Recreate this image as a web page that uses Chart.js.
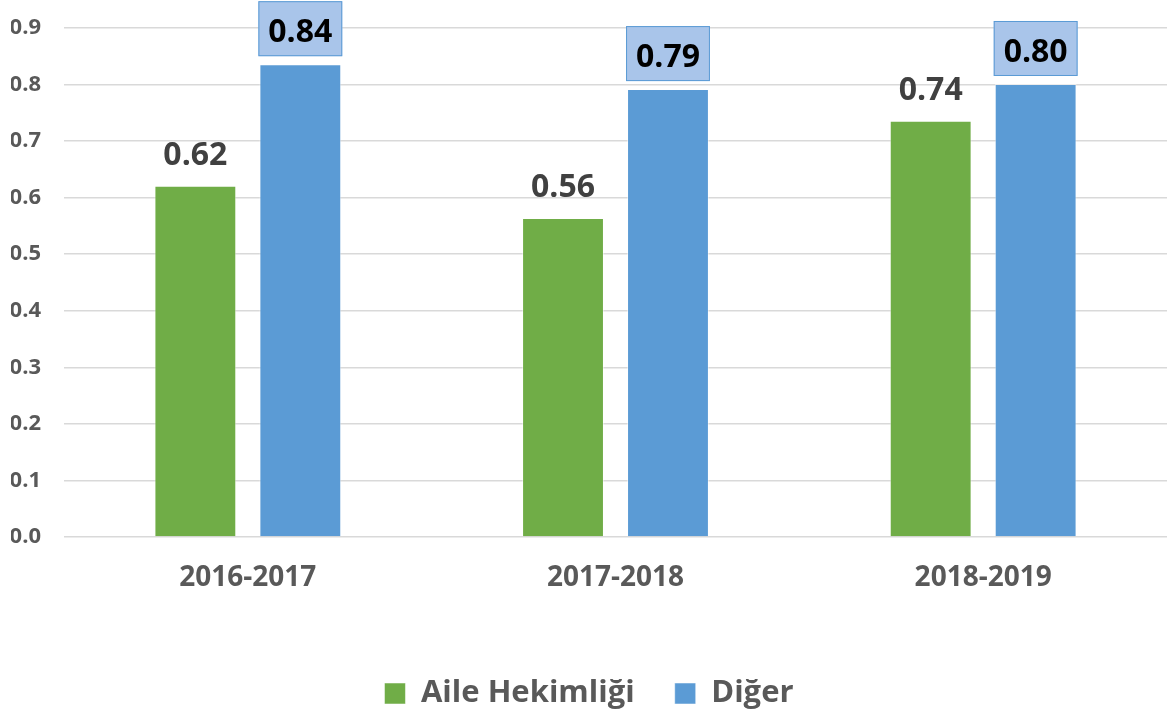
<!DOCTYPE html>
<html>
<head>
<meta charset="utf-8">
<script src="https://cdn.jsdelivr.net/npm/chart.js@4"></script>
<style>
html,body{margin:0;padding:0;background:#fff;}
#wrap{width:1167px;height:719px;}
</style>
</head>
<body>
<div id="wrap"><canvas id="c" width="1167" height="719"></canvas></div>
<script>
const categories = ["2016-2017", "2017-2018", "2018-2019"];
const aileHekimligi = [0.621, 0.564, 0.736];
const diger = [0.836, 0.792, 0.801];
const seriesNames = ["Aile Hekimliği", "Diğer"];
const yTicks = [0, 0.1, 0.2, 0.3, 0.4, 0.5, 0.6, 0.7, 0.8, 0.9];

const FONT = "'Open Sans', 'Noto Sans', sans-serif";

const labelPlugin = {
  id: 'valueLabels',
  afterDatasetsDraw(chart) {
    const ctx = chart.ctx;
    chart.data.datasets.forEach((ds, di) => {
      const meta = chart.getDatasetMeta(di);
      meta.data.forEach((bar, i) => {
        const v = ds.data[i];
        const txt = (Math.round(v * 100) / 100).toFixed(2);
        ctx.save();
        ctx.font = "bold 32px " + FONT;
        ctx.textAlign = 'center';
        ctx.textBaseline = 'alphabetic';
        if (di === 1) {
          const w = bar.width + 2;
          const left = bar.x - w / 2;
          const top = bar.y - 63;
          const h = 55;
          ctx.fillStyle = '#a9c5ea';
          ctx.fillRect(left, top, w, h);
          ctx.strokeStyle = '#5b9bd5';
          ctx.lineWidth = 1;
          ctx.strokeRect(left + 0.5, top + 0.5, w - 1, h - 1);
          ctx.fillStyle = '#000000';
          ctx.fillText(txt, bar.x, bar.y - 22);
        } else {
          ctx.fillStyle = '#404040';
          ctx.fillText(txt, bar.x, bar.y - 21);
        }
        ctx.restore();
      });
    });
  }
};

new Chart(document.getElementById('c'), {
  type: 'bar',
  data: {
    labels: categories,
    datasets: [
      { label: seriesNames[0], data: aileHekimligi, backgroundColor: '#70ad47', borderColor: 'rgba(255,255,255,0.5)', borderWidth: 1, barPercentage: 0.78, categoryPercentage: 0.571 },
      { label: seriesNames[1], data: diger, backgroundColor: '#5b9bd5', borderColor: 'rgba(255,255,255,0.5)', borderWidth: 1, barPercentage: 0.78, categoryPercentage: 0.571 }
    ]
  },
  options: {
    responsive: false,
    animation: false,
    devicePixelRatio: 1,
    layout: { padding: { left: 11, top: 28, right: 0, bottom: 0 } },
    plugins: {
      tooltip: { enabled: false },
      legend: {
        position: 'bottom',
        labels: {
          font: { family: FONT, size: 31, weight: 'bold' },
          color: '#595959',
          boxWidth: 21,
          boxHeight: 21,
          padding: 40
        }
      }
    },
    scales: {
      x: {
        grid: { display: false, drawTicks: false },
        border: { display: false },
        ticks: { font: { family: FONT, size: 28, weight: 'bold' }, color: '#595959', padding: 24 },
        afterFit(scale) { scale.height = 101; scale.paddingLeft = 0; scale.paddingRight = 0; }
      },
      y: {
        min: 0,
        max: 0.9,
        afterBuildTicks(scale) { scale.ticks = yTicks.map(v => ({ value: v })); },
        grid: { color: '#d9d9d9', lineWidth: 1.5, drawTicks: false },
        border: { display: false },
        ticks: {
          font: { family: FONT, size: 22, weight: 'bold' },
          color: '#595959',
          padding: 23,
          callback: v => Number(v).toFixed(1)
        },
        afterFit(scale) { scale.width = 53; scale.paddingTop = 0; scale.paddingBottom = 0; }
      }
    }
  },
  plugins: [labelPlugin]
});
</script>
</body>
</html>
